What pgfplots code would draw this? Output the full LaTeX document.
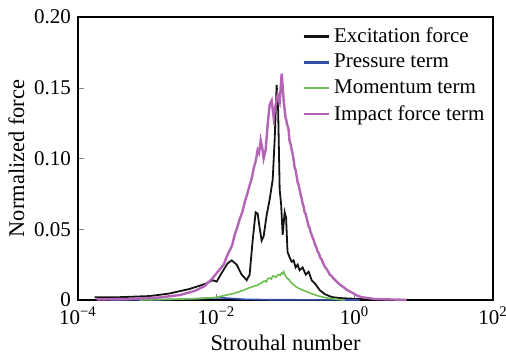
\documentclass[border=0pt]{standalone}
\usepackage{pgfplots}
\pgfplotsset{compat=1.18}
\usepackage{fontspec}
\setmainfont{Liberation Serif}
\definecolor{cblk}{RGB}{20,20,20}
\definecolor{cblu}{RGB}{50,80,170}
\definecolor{cgrn}{RGB}{110,190,80}
\definecolor{cmag}{RGB}{180,100,180}
\begin{document}
\begin{tikzpicture}
\begin{axis}[
  scale only axis,
  width=207.5pt, height=141.5pt,
  xmode=log,
  xmin=1e-4, xmax=100, ymin=0, ymax=0.2,
  xtick={1e-4,1e-2,1,100},
  xticklabels={10\textsuperscript{−4},10\textsuperscript{−2},10\textsuperscript{0},10\textsuperscript{2}},
  ytick={0,0.05,0.1,0.15,0.2},
  yticklabels={0,0.05,0.10,0.15,0.20},
  xminorticks=false, yminorticks=false,
  tick align=inside, tick pos=left,
  major tick length=3pt,
  tick label style={font=\fontsize{10.5}{12}\selectfont},
  xlabel={Strouhal number}, ylabel={Normalized force},
  label style={font=\fontsize{11.2}{13}\selectfont},
  xlabel style={yshift=2pt},
  ylabel style={yshift=-2pt},
  axis line style={line width=0.6pt},
  legend style={at={(0.995,0.985)}, anchor=north east, draw=none, fill=none,
    font=\fontsize{10.5}{12}\selectfont, row sep=0.4pt, inner sep=1pt},
  legend cell align=left,
  legend image code/.code={\draw[#1, line width=1.2pt] (-1pt,0pt) -- (11.5pt,0pt);},
]
\addplot[cblk, line width=0.9pt] coordinates {
(1.74e-4,0.002) (4.0e-4,0.002) (1.1e-3,0.0028) (2.1e-3,0.0046) (4.1e-3,0.0078)
(6.8e-3,0.0113) (8.9e-3,0.014) (1.01e-2,0.013) (1.19e-2,0.019) (1.46e-2,0.026)
(1.67e-2,0.028) (1.97e-2,0.025) (2.32e-2,0.018) (2.75e-2,0.014) (3.03e-2,0.018)
(3.35e-2,0.042) (3.70e-2,0.062) (3.96e-2,0.061) (4.23e-2,0.051) (4.52e-2,0.042)
(4.83e-2,0.045) (5.34e-2,0.060) (5.90e-2,0.071) (6.53e-2,0.085) (6.97e-2,0.113)
(7.45e-2,0.152) (7.83e-2,0.134) (8.24e-2,0.078) (8.66e-2,0.067) (9.10e-2,0.046)
(9.73e-2,0.062) (0.102,0.058) (0.107,0.034) (0.115,0.030) (0.123,0.027)
(0.131,0.028) (0.140,0.023) (0.150,0.025) (0.160,0.021) (0.177,0.023)
(0.196,0.018) (0.216,0.020) (0.239,0.014) (0.273,0.011) (0.312,0.007)
(0.368,0.0042) (0.465,0.0021) (0.607,0.0014) (0.847,0.001) (1.40,0.0007)
};
\addlegendentry{Excitation force}
\addplot[cblu, line width=0.8pt] coordinates {
(2.87e-4,0) (1.52e-3,0.0002) (4.1e-3,0.0007) (8.0e-3,0.0014) (1.12e-2,0.0016)
(1.56e-2,0.0012) (2.57e-2,0.0005) (5.9e-2,0.0002) (0.312,0.0001) (1.18,0)
};
\addlegendentry{Pressure term}
\addplot[cgrn, line width=0.8pt] coordinates {
(7.8e-4,0) (2.1e-3,0.0005) (5.74e-3,0.001) (1.0e-2,0.0018) (1.56e-2,0.004)
(1.85e-2,0.0048) (2.17e-2,0.006) (2.45e-2,0.0068) (2.75e-2,0.008) (3.1e-2,0.0088)
(3.59e-2,0.010) (3.9e-2,0.0102) (4.2e-2,0.0115) (4.45e-2,0.0118) (4.67e-2,0.013)
(5.1e-2,0.0135) (5.3e-2,0.0128) (5.52e-2,0.015) (6.0e-2,0.0155) (6.25e-2,0.0148)
(6.53e-2,0.017) (6.9e-2,0.0168) (7.21e-2,0.016) (7.6e-2,0.0172) (7.97e-2,0.018)
(8.4e-2,0.0175) (8.81e-2,0.019) (9.1e-2,0.0185) (9.41e-2,0.020) (0.097,0.0185)
(0.100,0.017) (0.107,0.015) (0.111,0.0148) (0.115,0.0135) (0.123,0.012)
(0.133,0.0105) (0.145,0.009) (0.160,0.008) (0.177,0.007) (0.200,0.006)
(0.223,0.005) (0.292,0.003) (0.407,0.0013) (0.568,0.0004) (0.717,0)
};
\addlegendentry{Momentum term}
\addplot[cmag, line width=1.2pt] coordinates {
(1.86e-4,0.0004) (5.58e-4,0.0007) (1.52e-3,0.0018) (2.95e-3,0.0035) (4.86e-3,0.0064)
(6.78e-3,0.0099) (8.85e-3,0.0155) (1.05e-2,0.020) (1.28e-2,0.025) (1.42e-2,0.031)
(1.56e-2,0.035) (1.70e-2,0.039) (1.84e-2,0.046) (2.0e-2,0.051) (2.17e-2,0.057)
(2.37e-2,0.062) (2.57e-2,0.069) (2.8e-2,0.075) (3.03e-2,0.081) (3.25e-2,0.086)
(3.47e-2,0.093) (3.7e-2,0.098) (3.96e-2,0.106) (4.15e-2,0.104) (4.38e-2,0.113)
(4.6e-2,0.108) (4.83e-2,0.100) (5.16e-2,0.106) (5.52e-2,0.124) (5.9e-2,0.138)
(6.31e-2,0.141) (6.75e-2,0.129) (7.21e-2,0.138) (7.71e-2,0.145) (8.24e-2,0.140)
(8.81e-2,0.160) (9.41e-2,0.141) (0.097,0.135) (0.100,0.129) (0.103,0.127)
(0.105,0.124) (0.108,0.123) (0.111,0.120) (0.114,0.113) (0.117,0.111)
(0.120,0.109) (0.123,0.106) (0.126,0.104) (0.13,0.100) (0.133,0.097)
(0.136,0.093) (0.14,0.092) (0.143,0.089) (0.147,0.086) (0.150,0.083)
(0.154,0.082) (0.158,0.079) (0.162,0.077) (0.166,0.074) (0.171,0.072)
(0.177,0.068) (0.183,0.066) (0.189,0.062) (0.195,0.061) (0.202,0.058)
(0.209,0.055) (0.216,0.052) (0.223,0.051) (0.231,0.048) (0.239,0.046)
(0.247,0.044) (0.257,0.042) (0.268,0.039) (0.28,0.037) (0.292,0.034)
(0.305,0.033) (0.317,0.030) (0.33,0.029) (0.344,0.027) (0.365,0.024)
(0.39,0.022) (0.41,0.0205) (0.435,0.018) (0.46,0.0172) (0.49,0.0155)
(0.52,0.0142) (0.549,0.013) (0.59,0.0115) (0.63,0.0105) (0.67,0.0095)
(0.717,0.0085) (0.77,0.0072) (0.82,0.0065) (0.88,0.0056) (0.935,0.005)
(1.05,0.0035) (1.26,0.002) (1.95,0.0007) (3.21,0.0004) (5.65,0.0001)
};
\addlegendentry{Impact force term}
\end{axis}
\pgfresetboundingbox
\path ([xshift=-39pt,yshift=-26.5pt]current axis.south west) rectangle ([xshift=6.5pt,yshift=8.5pt]current axis.north east);
\end{tikzpicture}
\end{document}
